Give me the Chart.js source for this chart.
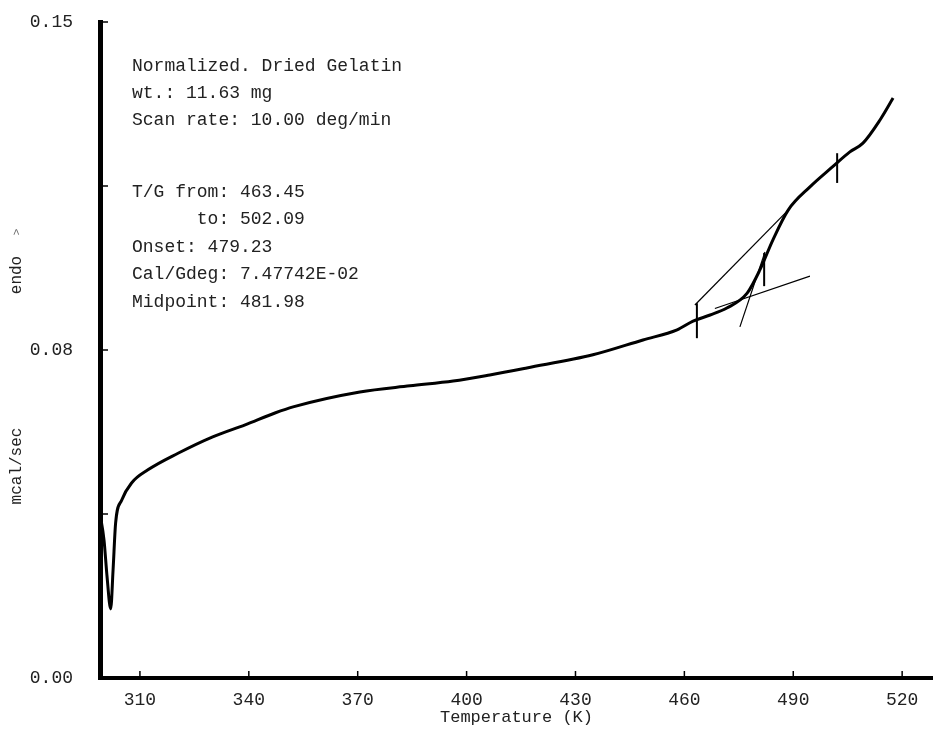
<!DOCTYPE html>
<html>
<head>
<meta charset="utf-8">
<script src="https://cdn.jsdelivr.net/npm/chart.js@4.4.1/dist/chart.umd.min.js"></script>
<style>
  html, body { margin: 0; padding: 0; background: #fff; }
  #wrap { width: 933px; height: 743px; position: relative; }
</style>
</head>
<body>
<div id="wrap"><canvas id="dscChart"></canvas></div>
<script>
// DSC trace of dried gelatin
const temps = [299.0, 300.1, 300.9, 301.95, 302.6, 303.3, 305.0, 307.7, 312.2, 320.5, 329.9, 339.0,
  347.2, 352.2, 370.6, 384.4, 396.3, 406.4, 416.6, 434.8, 448.6, 458.0, 462.4, 467.1, 471.7,
  477.3, 480.8, 484.4, 488.6, 494.6, 500.7, 505.6, 509.2, 513.9, 517.5];
const heatFlow = [0.0375, 0.0316, 0.0236, 0.0158, 0.0247, 0.0354, 0.0407, 0.0446, 0.0476, 0.0514,
  0.0551, 0.0579, 0.0606, 0.0620, 0.0654, 0.0668, 0.0679, 0.0693, 0.0709, 0.0739, 0.0773, 0.0796,
  0.0816, 0.0830, 0.0846, 0.0880, 0.0933, 0.1002, 0.1070, 0.1123, 0.1168, 0.1203, 0.1223, 0.1276,
  0.1326];

// construction lines of the glass transition analysis
const chordT = [462.9, 488.6];
const chordV = [0.0853, 0.1070];
const baseT = [468.4, 494.6];
const baseV = [0.0845, 0.0919];
const steepT = [475.3, 482.2];
const steepV = [0.0803, 0.0974];

// little vertical marks on the curve (T/G from, midpoint, to)
const markTemps = [463.45, 481.98, 502.09];
const markLow = [0.0777, 0.0896, 0.1132];
const markHigh = [0.0857, 0.0972, 0.1200];

const xTicks = [310, 340, 370, 400, 430, 460, 490, 520];
const yTicks = [0, 0.0375, 0.075, 0.1125, 0.15];
const yTickLabels = ['0.00', '', '0.08', '', '0.15'];

const infoTop = ['Normalized. Dried Gelatin', 'wt.: 11.63 mg', 'Scan rate: 10.00 deg/min'];
const infoBottom = ['T/G from: 463.45', '      to: 502.09', 'Onset: 479.23',
  'Cal/Gdeg: 7.47742E-02', 'Midpoint: 481.98'];

const monoFont = "'Liberation Mono', 'DejaVu Sans Mono', monospace";

const toPoints = (xs, ys) => xs.map((x, i) => ({ x: x, y: ys[i] }));

const thin = (pts, w) => ({
  data: pts,
  borderColor: '#000',
  borderWidth: w,
  pointRadius: 0,
  tension: 0
});

const datasets = [
  {
    data: toPoints(temps, heatFlow),
    borderColor: '#000',
    borderWidth: 3,
    pointRadius: 0,
    cubicInterpolationMode: 'monotone'
  },
  thin(toPoints(chordT, chordV), 1.2),
  thin(toPoints(baseT, baseV), 1.2),
  thin(toPoints(steepT, steepV), 1.2)
];
markTemps.forEach((t, i) => {
  datasets.push(thin([{ x: t, y: markLow[i] }, { x: t, y: markHigh[i] }], 2));
});

// ticks in the original point into the plot, and the side texts
const decorations = {
  id: 'decorations',
  afterDraw(chart) {
    const ctx = chart.ctx;
    const area = chart.chartArea;
    const xs = chart.scales.x;
    const ys = chart.scales.y;
    ctx.save();
    ctx.strokeStyle = '#000';
    ctx.lineWidth = 1.5;
    yTicks.forEach(v => {
      const py = ys.getPixelForValue(v);
      ctx.beginPath();
      ctx.moveTo(area.left, py);
      ctx.lineTo(area.left + 8, py);
      ctx.stroke();
    });
    xTicks.forEach(v => {
      const px = xs.getPixelForValue(v);
      ctx.beginPath();
      ctx.moveTo(px, area.bottom);
      ctx.lineTo(px, area.bottom - 7);
      ctx.stroke();
    });

    ctx.fillStyle = '#222';
    ctx.font = '18px ' + monoFont;
    ctx.textAlign = 'left';
    ctx.textBaseline = 'middle';
    infoTop.forEach((s, i) => ctx.fillText(s, 132, 66 + i * 27.3));
    infoBottom.forEach((s, i) => ctx.fillText(s, 132, 192 + i * 27.5));

    ctx.font = '16px ' + monoFont;
    ctx.textAlign = 'center';
    ctx.save();
    ctx.translate(17, 466);
    ctx.rotate(-Math.PI / 2);
    ctx.fillText('mcal/sec', 0, 0);
    ctx.restore();
    ctx.save();
    ctx.translate(17, 275);
    ctx.rotate(-Math.PI / 2);
    ctx.fillText('endo', 0, 0);
    ctx.fillStyle = '#666';
    ctx.font = '11px ' + monoFont;
    ctx.fillText('>', 43, 0);
    ctx.restore();
    ctx.restore();
  }
};

new Chart(document.getElementById('dscChart'), {
  type: 'line',
  data: { datasets: datasets },
  options: {
    responsive: true,
    maintainAspectRatio: false,
    animation: false,
    layout: { padding: { top: 22, right: 0, bottom: 0, left: 0 } },
    plugins: {
      legend: { display: false },
      tooltip: { enabled: false }
    },
    scales: {
      x: {
        type: 'linear',
        min: 299,
        max: 528.5,
        afterBuildTicks: scale => { scale.ticks = xTicks.map(v => ({ value: v })); },
        afterFit: scale => {
          scale.height = 65;
          scale.paddingLeft = 0;
          scale.paddingRight = 0;
        },
        grid: { display: false, drawTicks: false },
        border: { display: true, color: '#000', width: 4 },
        ticks: {
          padding: 11,
          color: '#222',
          maxRotation: 0,
          autoSkip: false,
          font: { family: monoFont, size: 18 },
          callback: v => String(v)
        },
        title: {
          display: true,
          text: 'Temperature (K)',
          color: '#222',
          font: { family: monoFont, size: 17 },
          padding: { top: 0, bottom: 15 }
        }
      },
      y: {
        min: 0,
        max: 0.15,
        afterBuildTicks: scale => { scale.ticks = yTicks.map(v => ({ value: v })); },
        afterFit: scale => {
          scale.width = 100;
          scale.paddingTop = 0;
          scale.paddingBottom = 0;
        },
        grid: { display: false, drawTicks: false },
        border: { display: true, color: '#000', width: 5 },
        ticks: {
          padding: 27,
          color: '#222',
          autoSkip: false,
          font: { family: monoFont, size: 18 },
          callback: (v, i) => yTickLabels[i]
        }
      }
    }
  },
  plugins: [decorations]
});
</script>
</body>
</html>
